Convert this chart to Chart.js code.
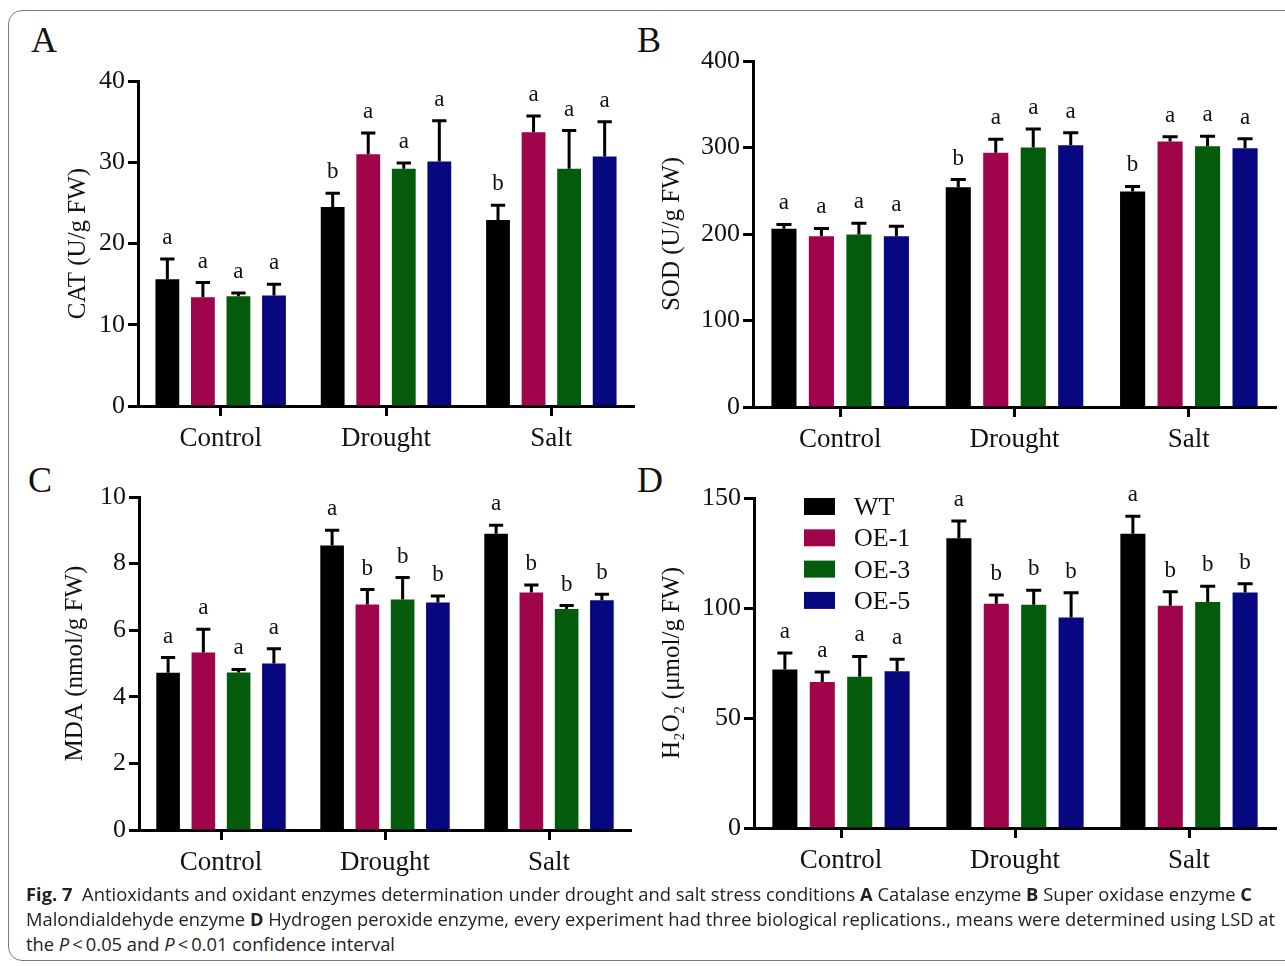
<!DOCTYPE html>
<html>
<head>
<meta charset="utf-8">
<script src="https://cdn.jsdelivr.net/npm/chart.js@4.4.1/dist/chart.umd.min.js"></script>
<style>
  body { margin: 0; background: #fff; width: 1285px; height: 966px; overflow: hidden; position: relative;
         font-family: 'Liberation Serif', 'Times New Roman', serif; }
  #frame { position: absolute; left: 8px; top: 10px; width: 1300px; height: 951px;
           border: 1.5px solid #7a7a7a; border-radius: 14px; box-sizing: border-box; }
  canvas { position: absolute; }
  .letter { position: absolute; font-size: 36px; line-height: 36px; color: #111; }
  .cap-line { position: absolute; left: 26px; font-family: 'Open Sans', 'Noto Sans', sans-serif;
              font-size: 18px; line-height: 25px; color: #222; white-space: nowrap; transform-origin: 0 0; }
</style>
</head>
<body>
<div id="frame"></div>

<div class="letter" style="left:31px; top:22px">A</div>
<div class="letter" style="left:637px; top:22px">B</div>
<div class="letter" style="left:28px; top:462px">C</div>
<div class="letter" style="left:637px; top:462px">D</div>

<canvas id="chart-A"></canvas>
<canvas id="chart-B"></canvas>
<canvas id="chart-C"></canvas>
<canvas id="chart-D"></canvas>

<div class="cap-line" id="cap-1" style="top:882px"><b>Fig. 7</b>&nbsp; Antioxidants and oxidant enzymes determination under drought and salt stress conditions <b>A</b> Catalase enzyme <b>B</b> Super oxidase enzyme <b>C</b></div>
<div class="cap-line" id="cap-2" style="top:907px">Malondialdehyde enzyme <b>D</b> Hydrogen peroxide enzyme, every experiment had three biological replications., means were determined using LSD at</div>
<div class="cap-line" id="cap-3" style="top:932px">the <i>P</i>&thinsp;&lt;&thinsp;0.05 and <i>P</i>&thinsp;&lt;&thinsp;0.01 confidence interval</div>

<script>
/**
 * DATA
 */
const categories = ["Control", "Drought", "Salt"];
const lines = ["WT", "OE-1", "OE-3", "OE-5"];
const lineColors = ["#000000", "#a0054c", "#045b0b", "#07077f"];

// rows follow `lines`, columns follow `categories`
const catMean = [[15.6, 24.5, 22.9], [13.4, 31.0, 33.7], [13.5, 29.2, 29.2], [13.6, 30.1, 30.7]];
const catSD = [[2.5, 1.7, 1.8], [1.8, 2.6, 2.0], [0.4, 0.7, 4.7], [1.4, 5.0, 4.3]];
const catLetters = [["a", "b", "b"], ["a", "a", "a"], ["a", "a", "a"], ["a", "a", "a"]];

const sodMean = [[206, 254, 249], [197.5, 294, 307], [199.5, 300, 301.5], [197.5, 302.5, 299]];
const sodSD = [[5, 9, 6], [9, 15.5, 5.5], [13, 21.5, 11.5], [11.5, 14.5, 11]];
const sodLetters = [["a", "b", "b"], ["a", "a", "a"], ["a", "a", "a"], ["a", "a", "a"]];

const mdaMean = [[4.72, 8.54, 8.9], [5.33, 6.77, 7.13], [4.73, 6.92, 6.64], [5.0, 6.83, 6.9]];
const mdaSD = [[0.46, 0.46, 0.25], [0.7, 0.45, 0.23], [0.09, 0.66, 0.1], [0.44, 0.2, 0.18]];
const mdaLetters = [["a", "a", "a"], ["a", "b", "b"], ["a", "b", "b"], ["a", "b", "b"]];

const h2o2Mean = [[72.1, 131.7, 133.7], [66.4, 101.9, 101.0], [68.8, 101.5, 102.7], [71.2, 95.7, 107.1]];
const h2o2SD = [[7.4, 7.9, 8.0], [4.5, 4.0, 6.4], [9.2, 6.6, 7.2], [5.5, 11.2, 3.9]];
const h2o2Letters = [["a", "a", "a"], ["a", "b", "b"], ["a", "b", "b"], ["a", "b", "b"]];

const catTicks = { max: 40, step: 10 };
const sodTicks = { max: 400, step: 100 };
const mdaTicks = { max: 10, step: 2 };
const h2o2Ticks = { max: 150, step: 50 };

/**
 * PLUGINS
 */
const SERIF = "'Liberation Serif', 'Times New Roman', serif";

const errorBarsPlugin = {
  id: 'errorBars',
  afterDatasetsDraw(chart) {
    const ctx = chart.ctx;
    const yScale = chart.scales.y;
    chart.data.datasets.forEach((ds, i) => {
      const meta = chart.getDatasetMeta(i);
      meta.data.forEach((bar, j) => {
        const top = yScale.getPixelForValue(ds.data[j] + ds.sd[j]);
        const half = bar.width * 0.3;
        ctx.save();
        ctx.strokeStyle = "#000";
        ctx.lineWidth = 3;
        ctx.beginPath();
        ctx.moveTo(bar.x, bar.y);
        ctx.lineTo(bar.x, top);
        ctx.moveTo(bar.x - half, top);
        ctx.lineTo(bar.x + half, top);
        ctx.stroke();
        ctx.fillStyle = "#111";
        ctx.font = "23px " + SERIF;
        ctx.textAlign = "center";
        ctx.textBaseline = "alphabetic";
        ctx.fillText(ds.letters[j], bar.x, top - 15);
        ctx.restore();
      });
    });
  }
};

const boxLegendPlugin = {
  id: 'boxLegend',
  afterDraw(chart, args, opts) {
    if (!opts.show) return;
    const ctx = chart.ctx;
    const { left, top } = chart.chartArea;
    chart.data.datasets.forEach((ds, i) => {
      const y = top + i * 31.3;
      ctx.save();
      ctx.fillStyle = ds.backgroundColor;
      ctx.fillRect(left + 50, y, 31, 17);
      ctx.fillStyle = "#111";
      ctx.font = "26px " + SERIF;
      ctx.textBaseline = "alphabetic";
      ctx.fillText(ds.label, left + 100, y + 17);
      ctx.restore();
    });
  }
};

/**
 * AUX
 */
const makePanel = (id, area, scaleLeft, title, means, sds, letters, ticks, showLegend) => {
  const padTop = 30, padRight = 8, xAxisHeight = 56;
  const canvas = document.getElementById(id);
  const top = area.t - padTop;
  const width = area.r - scaleLeft + padRight;
  const height = area.b - top + xAxisHeight;
  canvas.style.left = scaleLeft + "px";
  canvas.style.top = top + "px";
  canvas.width = width;
  canvas.height = height;
  canvas.style.width = width + "px";
  canvas.style.height = height + "px";

  return new Chart(canvas, {
    type: 'bar',
    data: {
      labels: categories,
      datasets: lines.map((name, i) => ({
        label: name,
        data: means[i],
        sd: sds[i],
        letters: letters[i],
        backgroundColor: lineColors[i],
        borderWidth: 0,
        categoryPercentage: 0.86,
        barPercentage: 0.67
      }))
    },
    options: {
      responsive: false,
      animation: false,
      devicePixelRatio: 1,
      layout: { autoPadding: false, padding: { top: padTop, right: padRight, left: 0, bottom: 0 } },
      plugins: {
        legend: { display: false },
        tooltip: { enabled: false },
        boxLegend: { show: showLegend }
      },
      scales: {
        x: {
          afterFit: (scale) => { scale.height = xAxisHeight; },
          grid: { offset: false, drawOnChartArea: false, drawTicks: true, tickLength: 10, tickWidth: 3, tickColor: "#000" },
          border: { display: true, color: "#000", width: 3 },
          ticks: { color: "#111", padding: 7, font: { family: SERIF, size: 27 }, maxRotation: 0 }
        },
        y: {
          min: 0,
          max: ticks.max,
          afterFit: (scale) => { scale.width = area.l - scaleLeft; },
          grid: { drawOnChartArea: false, drawTicks: true, tickLength: 10, tickWidth: 3, tickColor: "#000" },
          border: { display: true, color: "#000", width: 3 },
          ticks: { stepSize: ticks.step, color: "#111", padding: 3, font: { family: SERIF, size: 26 } },
          title: { display: true, text: title, color: "#111", padding: { top: 4, bottom: 0 }, font: { family: SERIF, size: 25 } }
        }
      }
    },
    plugins: [errorBarsPlugin, boxLegendPlugin]
  });
}

const fitCaption = (id, target) => {
  const el = document.getElementById(id);
  const k = target / el.getBoundingClientRect().width;
  el.style.transform = "scaleX(" + k + ")";
  return k;
}

document.addEventListener("DOMContentLoaded", () => {
  makePanel("chart-A", { l: 138, r: 634, t: 81, b: 406 }, 59, "CAT (U/g FW)", catMean, catSD, catLetters, catTicks, false);
  makePanel("chart-B", { l: 753, r: 1276, t: 61, b: 407 }, 653, "SOD (U/g FW)", sodMean, sodSD, sodLetters, sodTicks, false);
  makePanel("chart-C", { l: 139, r: 631, t: 497, b: 830 }, 56, "MDA (nmol/g FW)", mdaMean, mdaSD, mdaLetters, mdaTicks, false);
  makePanel("chart-D", { l: 754, r: 1276, t: 498, b: 828 }, 653, "H\u2082O\u2082 (\u03bcmol/g FW)", h2o2Mean, h2o2SD, h2o2Letters, h2o2Ticks, true);

  fitCaption("cap-1", 1226);
  const k = fitCaption("cap-2", 1249);
  document.getElementById("cap-3").style.transform = "scaleX(" + k + ")";
});
</script>
</body>
</html>
